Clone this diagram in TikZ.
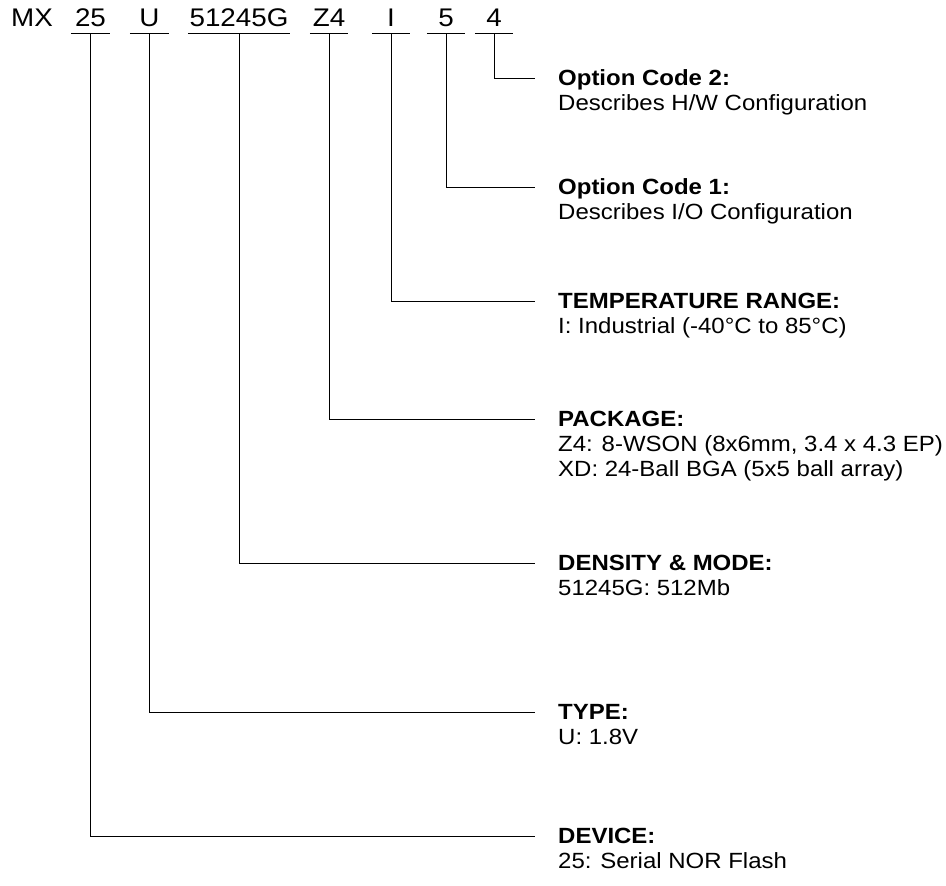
\documentclass[tikz,border=0pt]{standalone}
\usepackage{fontspec}
\setmainfont{Liberation Sans}[FakeStretch=1.09]

\begin{document}
\begin{tikzpicture}[x=1pt, y=-1pt,
  code/.style={inner xsep=0pt, inner ysep=6.8pt, text depth=0pt, anchor=base,
    font=\fontsize{25.5}{30}\selectfont},
  uline/.style={line width=1pt},
  title/.style={inner sep=0pt, text height=15.75pt, text depth=0pt, anchor=west,
    font=\fontsize{22}{25}\selectfont\bfseries},
  desc/.style={inner sep=0pt, anchor=base west,
    font=\fontsize{22}{25}\selectfont},
  conn/.style={line width=1pt, shorten >=23pt}]
  \useasboundingbox (0,0) rectangle (946,886);

  % Part number fields
  \node[code, anchor=base west] (mx) at (11,26.7) {MX};
  \node[code, minimum width=39pt]  (c25) at (90.5,26.7) {25};
  \node[code, minimum width=39pt]  (cU)  at (149.5,26.7) {U};
  \node[code, minimum width=102pt] (cG)  at (239,26.7) {51245G};
  \node[code, minimum width=38pt]  (cZ)  at (329,26.7) {Z4};
  \node[code, minimum width=38pt]  (cI)  at (391,26.7) {I};
  \node[code, minimum width=38pt]  (c5)  at (446,26.7) {5};
  \node[code, minimum width=38pt]  (c4)  at (494,26.7) {4};
  \foreach \n in {c25,cU,cG,cZ,cI,c5,c4}
    \draw[uline] (\n.south west) -- (\n.south east);

  % Field descriptions
  \node[title] (t4) at (558,78) {Option Code 2:};
  \node[desc]  (d4) at ([yshift=-25pt]t4.base west) {Describes H/W Configuration};
  \node[title] (t5) at (558,187) {Option Code 1:};
  \node[desc]  (d5) at ([yshift=-25pt]t5.base west) {Describes I/O Configuration};
  \node[title] (tI) at (558,301) {TEMPERATURE RANGE:};
  \node[desc]  (dI) at ([yshift=-25pt]tI.base west) {I: Industrial (-40°C to 85°C)};
  \node[title] (tZ) at (558,419) {PACKAGE:};
  \node[desc]  (dZ) at ([yshift=-25pt]tZ.base west) {Z4: 8-WSON (8x6mm, 3.4 x 4.3 EP)};
  \node[desc]  (dX) at ([yshift=-25pt]dZ.base west) {XD: 24-Ball BGA (5x5 ball array)};
  \node[title] (tG) at (558,563) {DENSITY \& MODE:};
  \node[desc]  (dG) at ([yshift=-25pt]tG.base west) {51245G: 512Mb};
  \node[title] (tU) at (558,712) {TYPE:};
  \node[desc]  (dU) at ([yshift=-25pt]tU.base west) {U: 1.8V};
  \node[title] (t25) at (558,836) {DEVICE:};
  \node[desc]  (d25) at ([yshift=-25pt]t25.base west) {25: Serial NOR Flash};

  % Leader lines
  \draw[conn] (c4.south)  |- (t4.west);
  \draw[conn] (c5.south)  |- (t5.west);
  \draw[conn] (cI.south)  |- (tI.west);
  \draw[conn] (cZ.south)  |- (tZ.west);
  \draw[conn] (cG.south)  |- (tG.west);
  \draw[conn] (cU.south)  |- (tU.west);
  \draw[conn] (c25.south) |- (t25.west);
\end{tikzpicture}
\end{document}
